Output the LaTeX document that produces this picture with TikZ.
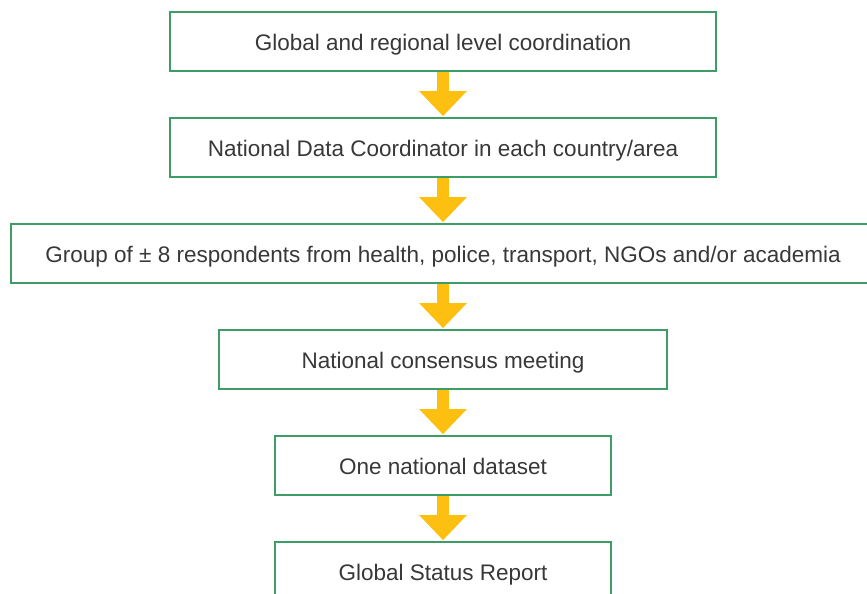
\documentclass[tikz,border=0pt]{standalone}
\usepackage{fontspec}
\setmainfont{Liberation Sans}
\usepackage{tikz}
\usetikzlibrary{positioning}
\usetikzlibrary{arrows.meta}
\definecolor{boxgreen}{HTML}{3E9D66}
\definecolor{flowyellow}{HTML}{FDC010}
\definecolor{txtgray}{HTML}{383838}

\begin{document}
\begin{tikzpicture}
    [x=1pt,y=1pt, line join=miter,
     stage/.style={draw=boxgreen,line width=1.6pt,fill=white,minimum height=59pt,
       inner sep=0pt,text height=18pt,text depth=0pt,text=txtgray,
       font=\fontsize{22.5}{26}\selectfont},
     flow/.style={draw=flowyellow,line width=12pt,
       -{Triangle[width=46pt,length=25pt]},shorten >=1pt}]
%frame of the page
\useasboundingbox (0,0) rectangle (867,-594);
%the stages
  \node[stage,minimum width=546pt] (global) at (443,-41.5) {Global and regional level coordination};
  \node[stage,minimum width=546pt,below=45.4pt of global] (coord) {National Data Coordinator in each country/area};
  \node[stage,minimum width=864pt,below=45.4pt of coord] (group) {Group of ± 8 respondents from health, police, transport, NGOs and/or academia};
  \node[stage,minimum width=448pt,below=45.4pt of group] (meeting) {National consensus meeting};
  \node[stage,minimum width=336pt,below=45.4pt of meeting] (dataset) {One national dataset};
  \node[stage,minimum width=336pt,below=45.4pt of dataset] (report) {Global Status Report};
%yellow arrows
  \draw[flow] (global) -- (coord);
  \draw[flow] (coord) -- (group);
  \draw[flow] (group) -- (meeting);
  \draw[flow] (meeting) -- (dataset);
  \draw[flow] (dataset) -- (report);
\end{tikzpicture}
\end{document}
